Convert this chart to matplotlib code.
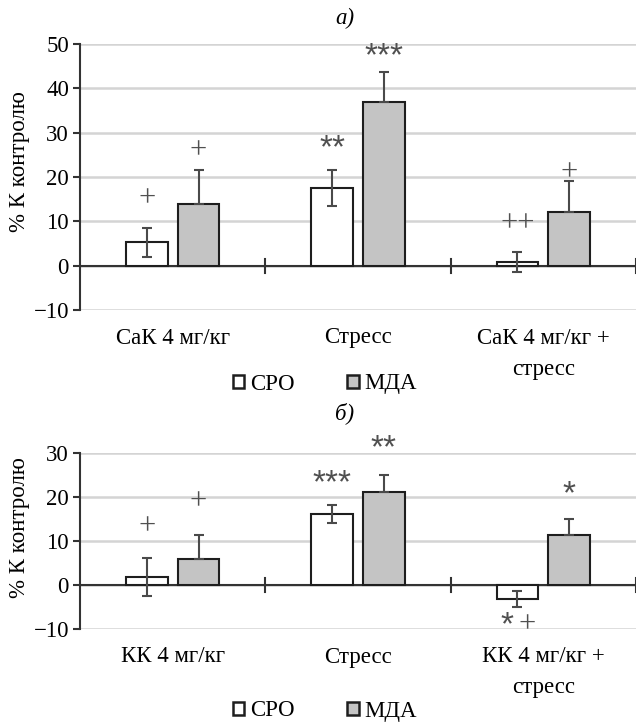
import matplotlib.pyplot as plt
import matplotlib.transforms as mtransforms
import numpy as np
from matplotlib.patches import Patch

plt.rcParams['font.family'] = ['Liberation Serif', 'DejaVu Sans']

# а) данные
groups_a = ['СаК 4 мг/кг', 'Стресс', 'СаК 4 мг/кг +\nстресс']
sro_a = [5.3, 17.5, 0.8]
sro_a_err = [3.3, 4.0, 2.2]
mda_a = [13.9, 37.0, 12.2]
mda_a_err = [7.7, 6.6, 6.9]
sro_a_marks = ['+', '**', '++']
sro_a_marks_y = [15.0, 27.7, 9.4]
mda_a_marks = ['+', '***', '+']
mda_a_marks_y = [25.9, 48.3, 21.0]

# б) данные
groups_b = ['КК 4 мг/кг', 'Стресс', 'КК 4 мг/кг +\nстресс']
sro_b = [1.8, 16.1, -3.1]
sro_b_err = [4.3, 2.0, 1.8]
mda_b = [5.8, 21.1, 11.4]
mda_b_err = [5.6, 4.0, 3.7]
sro_b_marks = ['+', '***', '* +']
sro_b_marks_y = [13.2, 24.3, -9.0]
mda_b_marks = ['+', '**', '*']
mda_b_marks_y = [18.8, 32.3, 21.7]

W, H = 636, 725
fig = plt.figure(figsize=(W / 100, H / 100), dpi=100)

grey = '#c4c4c4'
edge = '#1e1e1e'
ecol = '#4a4a4a'
mcol = '#505050'
FS = 16.5
STAR_FS = 24


def draw_mark(ax, x, y, s):
    # значки значимости; части через пробел ставятся рядом
    parts = s.split(' ')
    n = len(parts)
    for j, p in enumerate(parts):
        dx = (j - (n - 1) / 2) * 20
        if p.startswith('*'):
            dy = -0.42 * STAR_FS * 100 / 72 + (4 if n > 1 else 0)
            tr = mtransforms.offset_copy(ax.transData, fig=fig, x=dx, y=dy, units='dots')
            ax.text(x, y, p, transform=tr, ha='center', va='baseline', fontsize=STAR_FS,
                    family='Liberation Sans', color=mcol, zorder=5)
        else:
            tr = mtransforms.offset_copy(ax.transData, fig=fig, x=dx, y=0, units='dots')
            ax.text(x, y, p, transform=tr, ha='center', va='center', fontsize=22,
                    color=mcol, zorder=5)


def panel(rect, groups, sro, sro_err, mda, mda_err, sm, smy, mm, mmy, ylim, yticks, lab_y):
    ax = fig.add_axes(rect)
    x = np.arange(len(groups))
    off, bw = 0.14, 0.225
    ax.bar(x - off, sro, bw, color='white', edgecolor=edge, linewidth=1.5, zorder=3)
    ax.bar(x + off, mda, bw, color=grey, edgecolor=edge, linewidth=1.5, zorder=3)
    ax.errorbar(x - off, sro, yerr=sro_err, fmt='none', ecolor=ecol, elinewidth=1.5,
                capsize=3.6, capthick=1.5, zorder=4)
    ax.errorbar(x + off, mda, yerr=[np.zeros(len(mda)), mda_err], fmt='none', ecolor=ecol,
                elinewidth=1.5, capsize=3.6, capthick=1.5, zorder=4)
    for i in range(len(groups)):
        draw_mark(ax, x[i] - off, smy[i], sm[i])
        draw_mark(ax, x[i] + off, mmy[i], mm[i])
    ax.set_xlim(-0.5, len(groups) - 0.5)
    ax.set_ylim(*ylim)
    ax.set_yticks(yticks)
    ax.set_yticklabels([str(t).replace('-', '−') for t in yticks], fontsize=FS)
    ax.yaxis.grid(True, color='#d4d4d4', linewidth=1.8, zorder=0)
    ax.set_axisbelow(True)
    for s in ['top', 'right', 'bottom']:
        ax.spines[s].set_visible(False)
    ax.spines['left'].set_color('#333333')
    ax.spines['left'].set_linewidth(1.5)
    ax.tick_params(axis='y', length=5, width=1.5, color='#333333', pad=3)
    ax.axhline(0, color='#333333', linewidth=1.5, zorder=2)
    ax.set_xticks([])
    for b in np.arange(0.5, len(groups), 1.0):
        ax.plot([b, b], [-1.6, 1.6], color='#333333', linewidth=1.5, zorder=2, clip_on=False)
    for i, g in enumerate(groups):
        for k, line in enumerate(g.split('\n')):
            ax.text(x[i], lab_y[k], line, transform=ax.get_xaxis_transform(),
                    ha='center', va='center', fontsize=FS)
    return ax


ax1 = panel([80 / W, 1 - 310 / H, 1 - 80 / W, 266 / H], groups_a, sro_a, sro_a_err, mda_a, mda_a_err,
            sro_a_marks, sro_a_marks_y, mda_a_marks, mda_a_marks_y, (-10, 50), [-10, 0, 10, 20, 30, 40, 50],
            [-28 / 266, -60 / 266])
ax2 = panel([80 / W, 1 - 629 / H, 1 - 80 / W, 176 / H], groups_b, sro_b, sro_b_err, mda_b, mda_b_err,
            sro_b_marks, sro_b_marks_y, mda_b_marks, mda_b_marks_y, (-10, 30), [-10, 0, 10, 20, 30],
            [-28 / 176, -59 / 176])

fig.text(345 / W, 1 - 18 / H, 'а)', ha='center', va='center', fontsize=FS, style='italic')
fig.text(345 / W, 1 - 413 / H, 'б)', ha='center', va='center', fontsize=FS, style='italic')
fig.text(20 / W, 1 - 162 / H, '% К контролю', rotation=90, ha='center', va='center', fontsize=FS)
fig.text(20 / W, 1 - 528 / H, '% К контролю', rotation=90, ha='center', va='center', fontsize=FS)

handles = [Patch(facecolor='white', edgecolor=edge, linewidth=1.8, label='СРО'),
           Patch(facecolor=grey, edgecolor=edge, linewidth=1.8, label='МДА')]
for yy in [1 - 384 / H, 1 - 711 / H]:
    fig.legend(handles=handles, loc='center', bbox_to_anchor=(325 / W, yy), ncol=2, frameon=False,
               fontsize=FS, handlelength=0.5, handleheight=0.5, handletextpad=0.25, columnspacing=2.3)

fig.savefig('out.png', dpi=100)
